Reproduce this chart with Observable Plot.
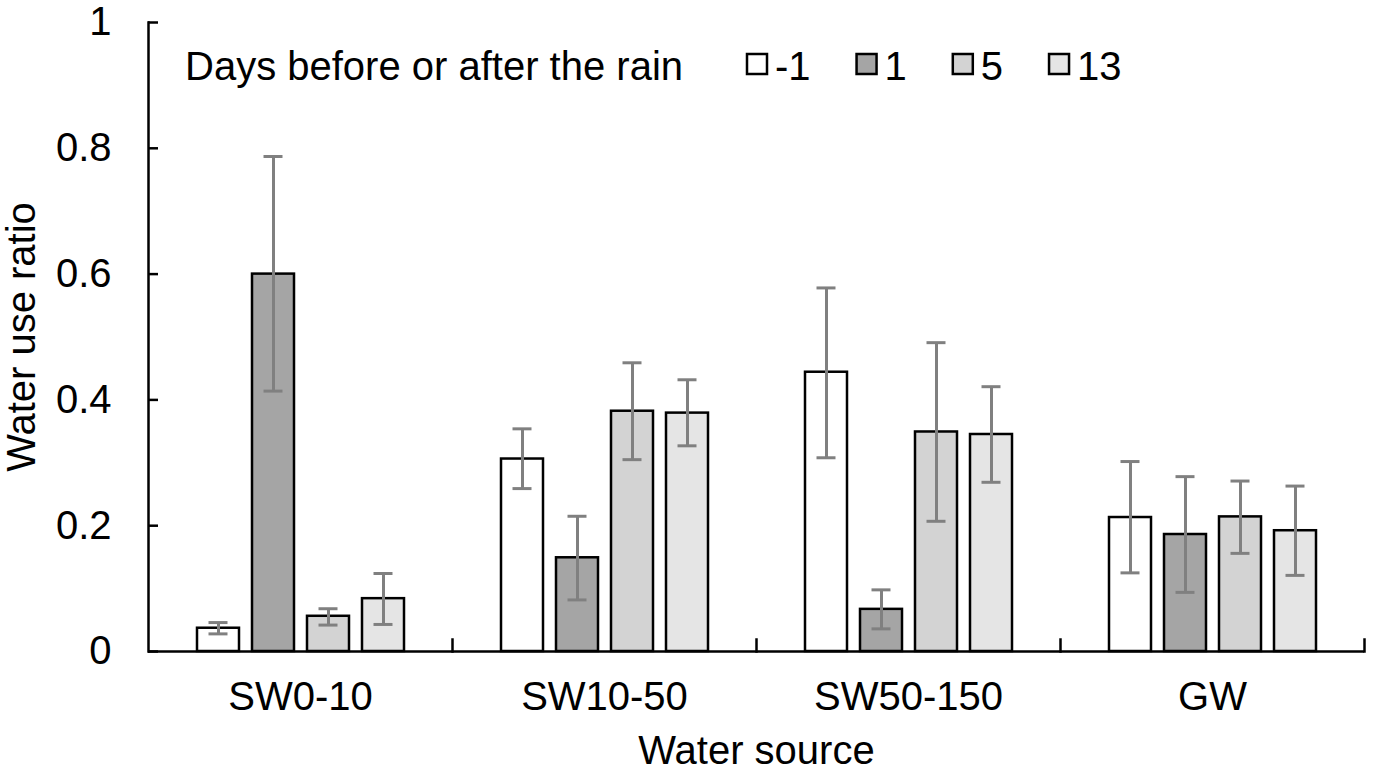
<!DOCTYPE html>
<html>
<head>
<meta charset="utf-8">
<script src="https://cdn.jsdelivr.net/npm/d3@7"></script>
<script src="https://cdn.jsdelivr.net/npm/@observablehq/plot@0.6"></script>
<style>
  body { margin: 0; background: #fff; }
  #chart svg { display: block; }
</style>
</head>
<body>
<div id="chart"></div>
<script>
// ---- Data ----
const sources = ["SW0-10", "SW10-50", "SW50-150", "GW"];
const days = ["-1", "1", "5", "13"];
const dayColors = ["#ffffff", "#a5a5a5", "#d3d3d3", "#e5e5e5"];
const errColor = "#808080";
const yTicks = [0, 0.2, 0.4, 0.6, 0.8, 1];

// mean water use ratio per day, in order of sources
const meanDm1 = [0.037, 0.306, 0.444, 0.213];
const meanD1  = [0.600, 0.149, 0.067, 0.186];
const meanD5  = [0.056, 0.382, 0.349, 0.214];
const meanD13 = [0.084, 0.379, 0.345, 0.192];

// error bar upper ends
const hiDm1 = [0.046, 0.354, 0.578, 0.302];
const hiD1  = [0.787, 0.215, 0.098, 0.278];
const hiD5  = [0.068, 0.459, 0.491, 0.271];
const hiD13 = [0.124, 0.432, 0.421, 0.263];

// error bar lower ends
const loDm1 = [0.028, 0.259, 0.308, 0.125];
const loD1  = [0.414, 0.082, 0.036, 0.094];
const loD5  = [0.042, 0.305, 0.207, 0.156];
const loD13 = [0.043, 0.327, 0.269, 0.121];

const means = [meanDm1, meanD1, meanD5, meanD13];
const his = [hiDm1, hiD1, hiD5, hiD13];
const los = [loDm1, loD1, loD5, loD13];

const rows = [];
sources.forEach((s, si) => {
  days.forEach((d, di) => {
    rows.push({source: s, day: d, value: means[di][si], hi: his[di][si], lo: los[di][si]});
  });
});

const FONT = "'Liberation Sans', Arial, Helvetica, sans-serif";
const FS = 40;
const W = 1373, H = 773;
const mTop = 22, mBottom = 122, mLeft = 147, mRight = 8;
const frameH = H - mTop - mBottom;

const svg = Plot.plot({
  width: W,
  height: H,
  marginLeft: mLeft,
  marginRight: mRight,
  marginTop: mTop,
  marginBottom: mBottom,
  style: {fontFamily: FONT, fontSize: FS + "px", color: "black", background: "white"},
  fx: {domain: sources, padding: 0},
  x: {domain: days, paddingInner: 0.24, paddingOuter: 0.85, axis: null},
  y: {domain: [0, 1]},
  color: {domain: days, range: dayColors},
  marks: [
    Plot.barY(rows, {fx: "source", x: "day", y: "value", fill: "day", stroke: "black", strokeWidth: 2.5}),
    Plot.ruleX(rows, {fx: "source", x: "day", y1: "lo", y2: "hi", stroke: errColor, strokeWidth: 3}),
    Plot.tickY(rows, {fx: "source", x: "day", y: "hi", stroke: errColor, strokeWidth: 3, inset: 11.5}),
    Plot.tickY(rows, {fx: "source", x: "day", y: "lo", stroke: errColor, strokeWidth: 3, inset: 11.5}),
    Plot.ruleY([0], {stroke: "black", strokeWidth: 2.5}),
    Plot.frame({anchor: "right", insetTop: frameH - 12, stroke: "black", strokeWidth: 2.5}),
    Plot.frame({anchor: "left", facetAnchor: "left", stroke: "black", strokeWidth: 2.5}),
    Plot.axisY(yTicks, {
      tickSize: 0, tickPadding: 37, tickFormat: d => String(d), fontSize: FS,
      label: "Water use ratio", labelAnchor: "center", labelOffset: 142, labelArrow: "none"
    }),
    Plot.axisY(yTicks, {tickSize: 10, dx: 10, tickFormat: () => "", stroke: "black", strokeWidth: 2.5, label: null}),
    Plot.axisFx({
      anchor: "bottom", tickSize: 0, tickPadding: 30, fontSize: FS,
      label: "Water source", labelAnchor: "center", labelOffset: 112
    })
  ]
});

// ---- Legend (inside the plot, top) ----
const leg = d3.select(svg).append("g")
  .attr("font-family", FONT)
  .attr("font-size", FS)
  .attr("text-anchor", "start")
  .attr("fill", "black");
leg.append("text").attr("x", 185).attr("y", 80).text("Days before or after the rain");
let lx = 747;
days.forEach((d, i) => {
  leg.append("rect")
    .attr("x", lx).attr("y", 54).attr("width", 20).attr("height", 20)
    .attr("fill", dayColors[i]).attr("stroke", "black").attr("stroke-width", 2.5);
  leg.append("text").attr("x", lx + 28).attr("y", 80).text(d);
  const tw = d.length === 2 ? (d === "-1" ? 0.889 : 1.112) * FS : 0.556 * FS;
  lx += 28 + tw + 46;
});

document.getElementById("chart").appendChild(svg);
</script>
</body>
</html>
